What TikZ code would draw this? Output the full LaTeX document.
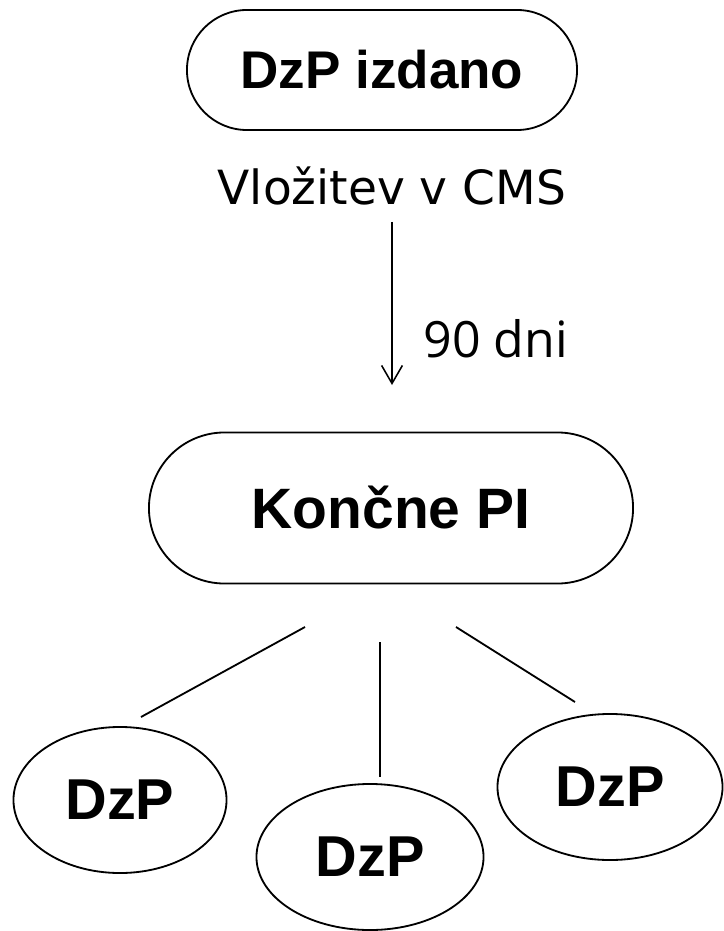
\documentclass[tikz,border=0pt]{standalone}
\usepackage{fontspec}
\setmainfont{Liberation Sans}
\newfontfamily\vlfont{DejaVu Sans}
\newfontfamily\dnifont{Open Sans}
\usetikzlibrary{shapes.geometric,arrows.meta}

\begin{document}
\begin{tikzpicture}[x=0.025cm,y=-0.025cm,
   line width=1.3pt,
   stadium/.style={draw, rectangle, inner sep=0pt, font=\bfseries},
   dzp/.style={draw, ellipse, inner sep=0pt, minimum height=3.65cm,
               font=\fontsize{41}{45}\selectfont\bfseries}]
   \useasboundingbox (0,0) rectangle (723,931);

   \node[stadium, minimum width=9.75cm, minimum height=3.0cm, rounded corners=1.5cm,
         font=\fontsize{37.7}{42}\selectfont\bfseries] (izdano) at (382,70) {DzP izdano};
   \node[anchor=base, font=\vlfont\fontsize{33.5}{38}\selectfont] (cms) at (392,205) {Vložitev v CMS};
   \node[anchor=base west, font=\dnifont\fontsize{35.6}{40}\selectfont] (dni) at (418,357) {90 dni};
   \node[stadium, minimum width=12.1cm, minimum height=3.775cm, rounded corners=1.8875cm,
         font=\fontsize{40.5}{45}\selectfont\bfseries] (pi) at (391,508) {Končne PI};

   \node[dzp, minimum width=5.325cm] (dzpa) at (120,800) {DzP};
   \node[dzp, minimum width=5.675cm] (dzpb) at (370,857) {DzP};
   \node[dzp, minimum width=5.625cm] (dzpc) at (610,787) {DzP};

   \coordinate (a1) at (392,222);
   \coordinate (a2) at (392,385);
   \draw[-{Straight Barb[length=4.5mm,width=5.2mm]}, line width=1.1pt] (a1) -- (a2);

   \coordinate (l1) at (305,627);
   \coordinate (l2) at (141,717);
   \coordinate (m1) at (380,642);
   \coordinate (m2) at (380,777);
   \coordinate (r1) at (456,627);
   \coordinate (r2) at (575,702);
   \draw (l1) -- (l2);
   \draw (m1) -- (m2);
   \draw (r1) -- (r2);

\end{tikzpicture}
\end{document}
